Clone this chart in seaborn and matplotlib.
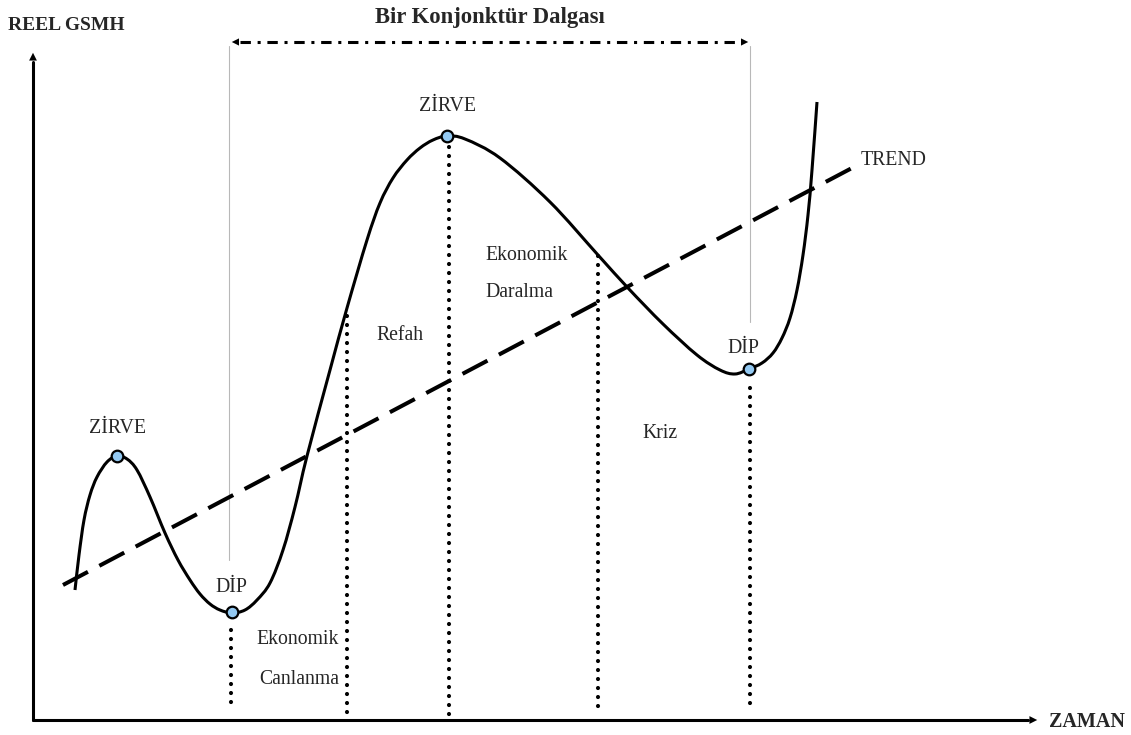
import numpy as np
import pandas as pd
import matplotlib
matplotlib.use("Agg")
import matplotlib.pyplot as plt
from matplotlib.path import Path
from matplotlib.patches import PathPatch
import seaborn as sns

# ---------------------------------------------------------------------------
# Values (diagram units = picture pixels, y downwards)
# ---------------------------------------------------------------------------
cycle_x = [75, 79, 84, 90, 97, 107, 117, 127, 137, 150, 165, 178, 190, 200, 210,
           220, 232, 245, 257, 270, 283, 295, 307, 330, 347, 367, 380, 393, 407,
           420, 433, 447, 465, 500, 550, 598, 628, 663, 697, 720, 735, 749, 762,
           773, 782, 790, 797, 803, 808, 812, 817]
cycle_y = [590, 555, 520, 495, 477, 462, 456, 459, 470, 497, 533, 560, 580, 594, 604,
           610, 613, 610, 600, 583, 550, 507, 456, 370, 308, 240, 203, 178, 160,
           148, 140, 136, 139, 158, 202, 255, 288, 324, 355, 370, 374, 369, 363,
           353, 338, 318, 290, 255, 215, 170, 102]

trend_x = [63, 852]
trend_y = [585, 168]

turn_labels = ["ZİRVE", "DİP", "ZİRVE", "DİP"]
turn_x = [117, 232, 447, 749]
turn_y = [456, 612, 136, 369]
turn_label_y = [428, 588, 106, 348]
turn_label_x = [117, 231, 447, 743]

# dotted phase separators: x, top, bottom
phase_x = [231, 347, 449, 598, 750]
phase_top = [630, 316, 147, 256, 388]
phase_bot = [705, 714, 718, 715, 710]

# faint guide lines that bound one cycle
guide_x = [229, 750]
guide_top = [46, 46]
guide_bot = [560, 322]

phase_texts = ["Ekonomik", "Canlanma", "Refah", "Ekonomik", "Daralma", "Kriz"]
phase_tx = [298, 299, 400, 527, 519, 660]
phase_ty = [640, 679, 335, 255, 292, 433]

W, H = 1131, 735

sns.set_style("white")
plt.rcParams["font.family"] = ["Liberation Serif", "DejaVu Serif"]

fig = plt.figure(figsize=(W / 100, H / 100), dpi=100)
ax = fig.add_axes([0, 0, 1, 1])
ax.set_xlim(0, W)
ax.set_ylim(H, 0)
ax.axis("off")

# guide lines
for gx, gt, gb in zip(guide_x, guide_top, guide_bot):
    ax.plot([gx, gx], [gt, gb], color="#b8b8b8", lw=0.8, zorder=1)

# dotted separators
for px, pt, pb in zip(phase_x, phase_top, phase_bot):
    ax.plot([px, px], [pt, pb], color="black", lw=3.0,
            linestyle=(0, (0.01, 2.15)), dash_capstyle="round", zorder=2)

# trend line
trend_df = pd.DataFrame({"x": trend_x, "y": trend_y})
sns.lineplot(data=trend_df, x="x", y="y", ax=ax, color="black", lw=2.9,
             linestyle=(0, (7, 3.2)), sort=False, zorder=3)

# business cycle curve: smooth Bezier path through the read points
pts = np.column_stack([cycle_x, cycle_y]).astype(float)
verts = [pts[0]]
codes = [Path.MOVETO]
for i in range(len(pts) - 1):
    p0 = pts[i - 1] if i > 0 else pts[i]
    p1, p2 = pts[i], pts[i + 1]
    p3 = pts[i + 2] if i + 2 < len(pts) else pts[i + 1]
    verts += [p1 + (p2 - p0) / 6, p2 - (p3 - p1) / 6, p2]
    codes += [Path.CURVE4] * 3
ax.add_patch(PathPatch(Path(verts, codes), facecolor="none", edgecolor="black",
                       lw=2.2, capstyle="butt", zorder=4))

# turning points
turn_df = pd.DataFrame({"x": turn_x, "y": turn_y, "label": turn_labels})
sns.scatterplot(data=turn_df, x="x", y="y", ax=ax, s=70, color="#93c9f2",
                edgecolor="black", linewidth=1.6, zorder=5)
for lab, lx, ly in zip(turn_labels, turn_label_x, turn_label_y):
    ax.text(lx, ly, lab, ha="center", va="center", fontsize=14.3)

for t, tx, ty in zip(phase_texts, phase_tx, phase_ty):
    ax.text(tx, ty, t, ha="center", va="center", fontsize=14.2)

ax.text(861, 160, "TREND", ha="left", va="center", fontsize=14.2)

# axes with arrows
ax.plot([33, 33], [720, 62], color="black", lw=2.2, zorder=6)
ax.annotate("", xy=(33, 50), xytext=(33, 66),
            arrowprops=dict(arrowstyle="-|>", color="black", lw=0, mutation_scale=14))
ax.plot([33, 1028], [720, 720], color="black", lw=2.2, zorder=6)
ax.annotate("", xy=(1040, 720), xytext=(1024, 720),
            arrowprops=dict(arrowstyle="-|>", color="black", lw=0, mutation_scale=14))

ax.text(8, 25, "REEL GSMH", ha="left", va="center", fontsize=14, fontweight="bold")
ax.text(1049, 722, "ZAMAN", ha="left", va="center", fontsize=14.5, fontweight="bold")

# one cycle double arrow
ax.plot([240, 740], [42, 42], color="black", lw=2.2,
        linestyle=(0, (3.4, 2.2, 1, 2.2)), zorder=6)
ax.annotate("", xy=(229, 42), xytext=(244, 42),
            arrowprops=dict(arrowstyle="-|>", color="black", lw=0, mutation_scale=13))
ax.annotate("", xy=(751, 42), xytext=(736, 42),
            arrowprops=dict(arrowstyle="-|>", color="black", lw=0, mutation_scale=13))
ax.text(490, 17, "Bir Konjonktür Dalgası", ha="center", va="center",
        fontsize=16.3, fontweight="bold")

fig.savefig("out.png", dpi=100, facecolor="white")
